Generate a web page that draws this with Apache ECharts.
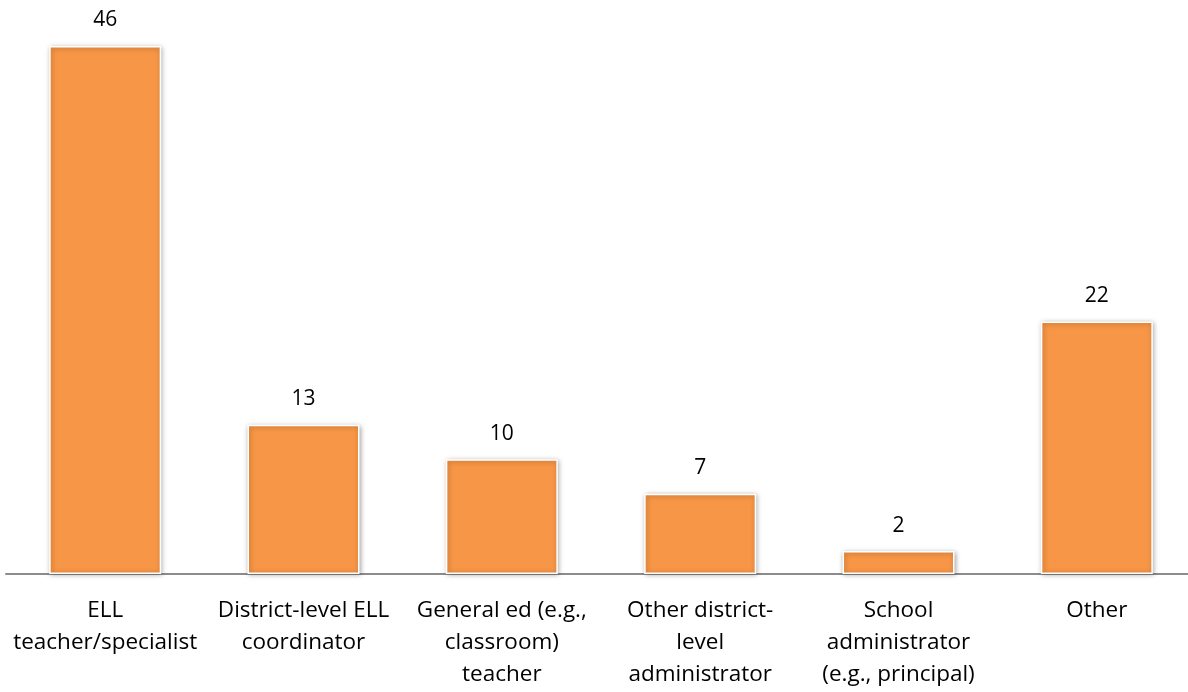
<!DOCTYPE html>
<html>
<head>
<meta charset="utf-8">
<script src="https://cdn.jsdelivr.net/npm/echarts@6/dist/echarts.min.js"></script>
<style>html,body{margin:0;padding:0;background:#fff;overflow:hidden}#chart{width:1196px;height:692px}</style>
</head>
<body>
<div id="chart"></div>
<script>
// Respondent roles and counts
const categories = [
  'ELL\nteacher/specialist',
  'District-level ELL\ncoordinator',
  'General ed (e.g.,\nclassroom)\nteacher',
  'Other district-\nlevel\nadministrator',
  'School\nadministrator\n(e.g., principal)',
  'Other'
];
const counts = [46, 13, 10, 7, 2, 22];

const font = '"Open Sans", "Noto Sans", sans-serif';
const chart = echarts.init(document.getElementById('chart'));
chart.setOption({
  animation: false,
  grid: { left: 6, right: 0, top: 0, bottom: 118 },
  xAxis: {
    type: 'category',
    data: categories,
    axisLine: { lineStyle: { color: '#8c8c8c', width: 2 } },
    axisTick: { show: false },
    axisLabel: {
      interval: 0, margin: 21, color: '#000', fontFamily: font, fontSize: 22.5, lineHeight: 32
    }
  },
  yAxis: { type: 'value', min: 0, max: 50, show: false, splitLine: { show: false } },
  series: [{
    type: 'bar',
    data: counts,
    barWidth: 112,
    itemStyle: {
      color: '#F79646', borderColor: '#ffffff', borderWidth: 1.5,
      shadowBlur: 5, shadowColor: 'rgba(0,0,0,0.35)', shadowOffsetX: 1, shadowOffsetY: 1
    },
    label: {
      show: true, position: 'top', distance: 15, color: '#000', fontFamily: font, fontSize: 21
    }
  }]
});
</script>
</body>
</html>
